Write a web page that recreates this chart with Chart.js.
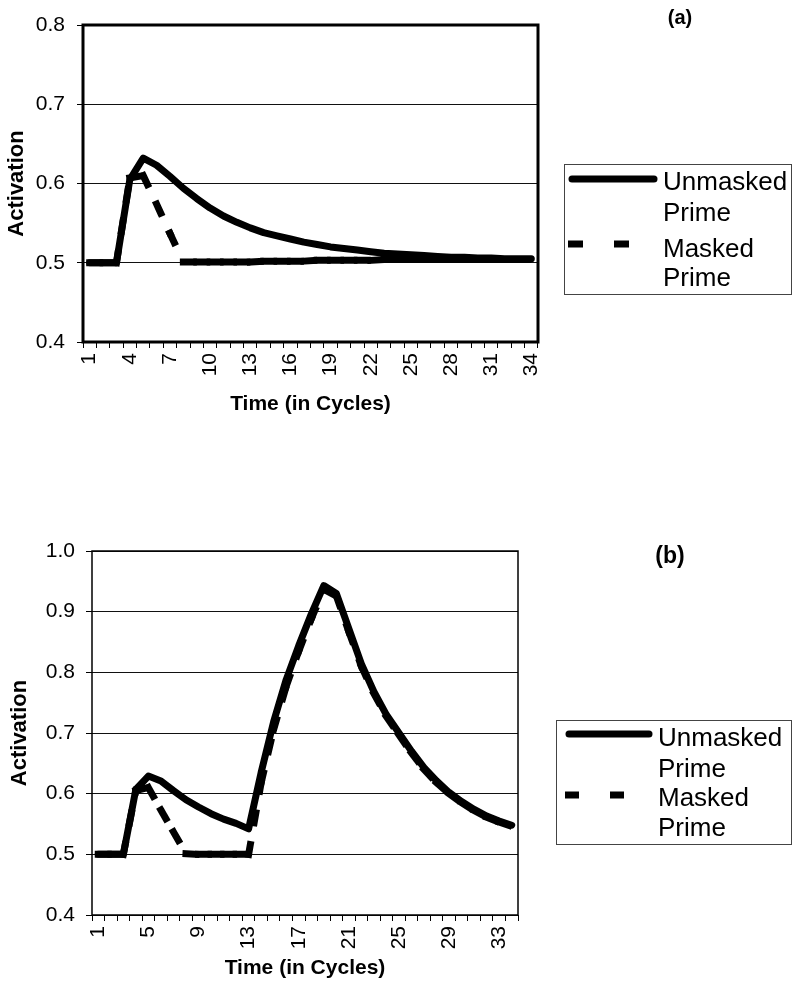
<!DOCTYPE html>
<html>
<head>
<meta charset="utf-8">
<script src="https://cdn.jsdelivr.net/npm/chart.js@4.4.1/dist/chart.umd.min.js"></script>
<style>
  html, body { margin: 0; padding: 0; background: #fff; }
  body { width: 792px; height: 990px; position: relative; overflow: hidden; }
  .panel { position: absolute; left: 0; width: 792px; }
  #panelA { top: 0; height: 420px; }
  #panelB { top: 500px; height: 490px; }
</style>
</head>
<body>
<div class="panel" id="panelA"><canvas id="chartA" width="792" height="420"></canvas></div>
<div class="panel" id="panelB"><canvas id="chartB" width="792" height="490"></canvas></div>
<script>
// categories: time in cycles
const CYCLES = ['1','2','3','4','5','6','7','8','9','10','11','12','13','14','15','16','17',
                '18','19','20','21','22','23','24','25','26','27','28','29','30','31','32','33','34'];

// labels actually printed under each axis
const X_LABELS_A = ['1','4','7','10','13','16','19','22','25','28','31','34'];
const X_LABELS_B = ['1','5','9','13','17','21','25','29','33'];

const Y_RANGE_A = [0.4, 0.8];
const Y_RANGE_B = [0.4, 1.0];
const Y_STEP = 0.1;

const SERIES_NAMES = ['Unmasked Prime', 'Masked Prime'];

// panel (a)
const UNMASKED_A = [0.500, 0.500, 0.500, 0.605, 0.632, 0.623, 0.609, 0.594, 0.581, 0.569,
                    0.559, 0.551, 0.544, 0.538, 0.534, 0.530, 0.526, 0.523, 0.520, 0.518,
                    0.516, 0.514, 0.512, 0.511, 0.510, 0.509, 0.508, 0.507, 0.507, 0.506,
                    0.506, 0.505, 0.505, 0.505];
const MASKED_A   = [0.500, 0.500, 0.500, 0.607, 0.610, 0.574, 0.537, 0.501, 0.501, 0.501,
                    0.501, 0.501, 0.501, 0.502, 0.502, 0.502, 0.502, 0.503, 0.503, 0.503,
                    0.503, 0.503, 0.504, 0.504, 0.504, 0.504, 0.504, 0.504, 0.504, 0.504,
                    0.504, 0.504, 0.504, 0.504];

// panel (b)
const UNMASKED_B = [0.500, 0.500, 0.500, 0.607, 0.629, 0.621, 0.605, 0.590, 0.578, 0.567,
                    0.558, 0.551, 0.542, 0.635, 0.719, 0.788, 0.844, 0.896, 0.943, 0.930,
                    0.872, 0.814, 0.768, 0.730, 0.700, 0.670, 0.643, 0.621, 0.602, 0.587,
                    0.574, 0.563, 0.555, 0.548];
const MASKED_B   = [0.500, 0.500, 0.500, 0.605, 0.610, 0.573, 0.537, 0.501, 0.500, 0.500,
                    0.500, 0.500, 0.500, 0.618, 0.706, 0.777, 0.835, 0.888, 0.937, 0.926,
                    0.867, 0.810, 0.765, 0.727, 0.697, 0.667, 0.640, 0.618, 0.600, 0.585,
                    0.572, 0.561, 0.553, 0.546];

const FONT = '"Liberation Sans", Arial, sans-serif';

// box around the plot area
const plotFrame = {
    id: 'plotFrame',
    beforeDatasetsDraw(chart, args, opts) {
        const { ctx, chartArea: a } = chart;
        ctx.save();
        ctx.lineWidth = opts.width;
        ctx.strokeStyle = '#000';
        ctx.strokeRect(a.left, a.top, a.right - a.left, a.bottom - a.top);
        ctx.restore();
    }
};

// legend box on the right + the (a)/(b) tag
const sideLegend = {
    id: 'sideLegend',
    afterDraw(chart, args, opts) {
        const ctx = chart.ctx;
        ctx.save();
        ctx.strokeStyle = '#444';
        ctx.lineWidth = 1;
        ctx.setLineDash([]);
        ctx.strokeRect(opts.x + 0.5, opts.y + 0.5, opts.w, opts.h);

        chart.data.datasets.forEach((ds, i) => {
            const row = opts.rows[i];
            ctx.strokeStyle = ds.borderColor;
            ctx.lineWidth = ds.borderWidth;
            if (ds.borderDash) {
                ctx.setLineDash(opts.dash);
                ctx.lineCap = 'butt';
            } else {
                ctx.setLineDash([]);
                ctx.lineCap = 'round';
            }
            ctx.beginPath();
            ctx.moveTo(row.x1, row.y);
            ctx.lineTo(row.x2, row.y);
            ctx.stroke();

            ctx.fillStyle = '#000';
            ctx.font = opts.fontSize + 'px ' + FONT;
            ctx.textAlign = 'left';
            ctx.textBaseline = 'alphabetic';
            ds.label.split(' ').forEach((word, j) => {
                ctx.fillText(word, opts.textX, row.base[j]);
            });
        });

        ctx.font = 'bold ' + opts.tagSize + 'px ' + FONT;
        ctx.textAlign = 'center';
        ctx.textBaseline = 'middle';
        ctx.fillText(opts.tag, opts.tagX, opts.tagY);
        ctx.restore();
    }
};

function makeChart(id, p) {
    const ctx = document.getElementById(id).getContext('2d');
    return new Chart(ctx, {
        type: 'line',
        data: {
            labels: CYCLES,
            datasets: [{
                label: SERIES_NAMES[0],
                data: p.unmasked,
                borderColor: '#000',
                borderWidth: 7,
                borderCapStyle: 'round',
                borderJoinStyle: 'round',
                pointRadius: 0,
                tension: 0,
                order: 1
            }, {
                label: SERIES_NAMES[1],
                data: p.masked,
                borderColor: '#000',
                borderWidth: 7,
                borderDash: [10, 22],
                borderCapStyle: 'square',
                pointRadius: 0,
                tension: 0,
                order: 0,
                // restart the dash pattern on every segment, like the old office charts do
                segment: {
                    borderDashOffset: c => (c.p0DataIndex % 2) * 0.01
                }
            }]
        },
        options: {
            responsive: false,
            animation: false,
            layout: { padding: { top: p.area.top, right: 792 - p.area.right, left: 0, bottom: 0 } },
            scales: {
                x: {
                    type: 'category',
                    offset: true,
                    border: { display: false },
                    grid: {
                        offset: true,
                        drawOnChartArea: false,
                        drawTicks: true,
                        tickLength: 6,
                        color: '#000',
                        tickColor: '#000',
                        lineWidth: 1
                    },
                    ticks: {
                        autoSkip: false,
                        minRotation: 90,
                        maxRotation: 90,
                        padding: 5,
                        color: '#000',
                        font: { family: FONT, size: 21 },
                        callback(v) {
                            const lab = this.getLabelForValue(v);
                            return p.xLabels.includes(lab) ? lab : '';
                        }
                    },
                    title: {
                        display: true,
                        text: 'Time (in Cycles)',
                        color: '#000',
                        font: { family: FONT, size: 21, weight: 'bold' },
                        padding: { top: 0, bottom: p.xTitlePad }
                    },
                    afterFit(s) { s.height = p.height - p.area.bottom; }
                },
                y: {
                    min: p.yRange[0],
                    max: p.yRange[1],
                    border: { display: false },
                    grid: {
                        color: '#111',
                        tickColor: '#000',
                        lineWidth: 1,
                        tickLength: 6
                    },
                    ticks: {
                        stepSize: Y_STEP,
                        padding: p.yTickPad,
                        color: '#000',
                        font: { family: FONT, size: 21 },
                        callback: v => v.toFixed(1)
                    },
                    title: {
                        display: true,
                        text: 'Activation',
                        color: '#000',
                        font: { family: FONT, size: 22, weight: 'bold' },
                        padding: { top: p.yTitlePad, bottom: 0 }
                    },
                    afterFit(s) { s.width = p.area.left; }
                }
            },
            plugins: {
                legend: { display: false },
                tooltip: { enabled: false },
                plotFrame: { width: p.frameWidth },
                sideLegend: p.legend
            }
        },
        plugins: [plotFrame, sideLegend]
    });
}

makeChart('chartA', {
    unmasked: UNMASKED_A,
    masked: MASKED_A,
    xLabels: X_LABELS_A,
    yRange: Y_RANGE_A,
    height: 420,
    area: { left: 83, right: 538, top: 25, bottom: 342 },
    frameWidth: 3,
    xTitlePad: 3,
    yTitlePad: 4,
    yTickPad: 12,
    legend: {
        x: 564, y: 164, w: 227, h: 130,
        dash: [15, 31],
        fontSize: 26,
        textX: 663,
        rows: [
            { x1: 572, x2: 654, y: 179, base: [190, 221] },
            { x1: 568, x2: 629, y: 244, base: [257, 286] }
        ],
        tag: '(a)', tagSize: 20, tagX: 680, tagY: 18
    }
});

makeChart('chartB', {
    unmasked: UNMASKED_B,
    masked: MASKED_B,
    xLabels: X_LABELS_B,
    yRange: Y_RANGE_B,
    height: 490,
    area: { left: 92, right: 518, top: 51, bottom: 415 },
    frameWidth: 1.5,
    xTitlePad: 9,
    yTitlePad: 7,
    yTickPad: 11,
    legend: {
        x: 556, y: 220, w: 235, h: 124,
        dash: [14, 31],
        fontSize: 26,
        textX: 658,
        rows: [
            { x1: 569, x2: 649, y: 234, base: [246, 277] },
            { x1: 565, x2: 626, y: 295, base: [306, 336] }
        ],
        tag: '(b)', tagSize: 23, tagX: 670, tagY: 57
    }
});
</script>
</body>
</html>
